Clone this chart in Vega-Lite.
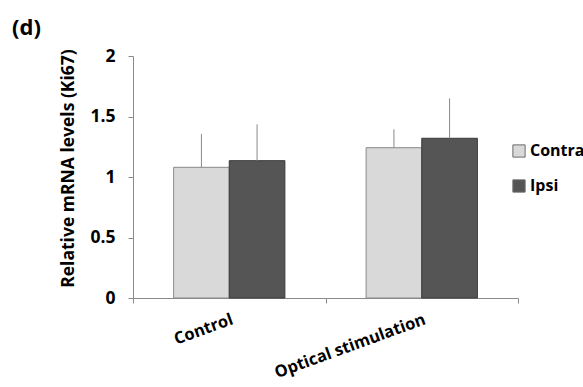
{
  "$schema": "https://vega.github.io/schema/vega-lite/v6.json",
  "width": 385,
  "height": 242,
  "autosize": {"type": "none"},
  "padding": {"left": 133, "top": 56, "right": 65, "bottom": 89},
  "background": "white",
  "config": {"view": {"stroke": null}},
  "title": {"text": "(d)", "anchor": "start", "frame": "group", "dx": -121, "dy": -3, "font": "Open Sans", "fontSize": 22, "fontWeight": "bold", "color": "black"},
  "data": {"values": [
    {"Group": "Control", "Side": "Contra", "value": 1.08, "upper": 1.355},
    {"Group": "Control", "Side": "Ipsi", "value": 1.135, "upper": 1.435},
    {"Group": "Optical stimulation", "Side": "Contra", "value": 1.242, "upper": 1.394},
    {"Group": "Optical stimulation", "Side": "Ipsi", "value": 1.32, "upper": 1.65}
  ]},
  "encoding": {
    "x": {"field": "Group", "type": "nominal", "sort": ["Control", "Optical stimulation"],
      "scale": {"paddingInner": 0, "paddingOuter": 0},
      "axis": {"title": null, "labelAngle": -20, "labelAlign": "right", "labelBaseline": "top", "tickBand": "extent",
        "labelFont": "Open Sans", "labelFontWeight": "bold", "labelFontSize": 16.5, "labelColor": "black",
        "domainColor": "#8a8a8a", "tickColor": "#8a8a8a", "tickSize": 5, "labelPadding": 8}},
    "xOffset": {"field": "Side", "type": "nominal", "sort": ["Contra", "Ipsi"], "scale": {"paddingInner": 0, "paddingOuter": 0.73}}
  },
  "layer": [
    {
      "mark": {"type": "bar", "strokeWidth": 1},
      "encoding": {
        "y": {"field": "value", "type": "quantitative", "scale": {"domain": [0, 2]},
          "axis": {"title": "Relative mRNA levels (Ki67)", "values": [0, 0.5, 1, 1.5, 2], "format": "~g", "grid": false,
            "labelFont": "Open Sans", "labelFontWeight": "bold", "labelFontSize": 17.5, "labelColor": "black", "labelPadding": 13,
            "titleFont": "Open Sans", "titleFontWeight": "bold", "titleFontSize": 17.5, "titleColor": "black", "titlePadding": 12, "titleY": 112,
            "domainColor": "#8a8a8a", "tickColor": "#8a8a8a", "tickSize": 5}},
        "color": {"field": "Side", "type": "nominal", "sort": ["Contra", "Ipsi"], "scale": {"range": ["#d9d9d9", "#555555"]},
          "legend": {"title": null, "orient": "none", "legendX": 378, "legendY": 87, "symbolType": "square", "symbolSize": 150,
            "symbolStrokeWidth": 1, "symbolStrokeColor": "#6a6a6a", "labelFont": "Open Sans", "labelFontWeight": "bold", "labelFontSize": 16, "labelColor": "black",
            "rowPadding": 17, "labelOffset": 3}},
        "stroke": {"field": "Side", "type": "nominal", "sort": ["Contra", "Ipsi"], "scale": {"range": ["#8a8a8a", "#3a3a3a"]}, "legend": null}
      }
    },
    {
      "mark": {"type": "rule", "color": "#8a8a8a", "strokeWidth": 1},
      "encoding": {
        "y": {"field": "value", "type": "quantitative"},
        "y2": {"field": "upper"}
      }
    }
  ]
}
